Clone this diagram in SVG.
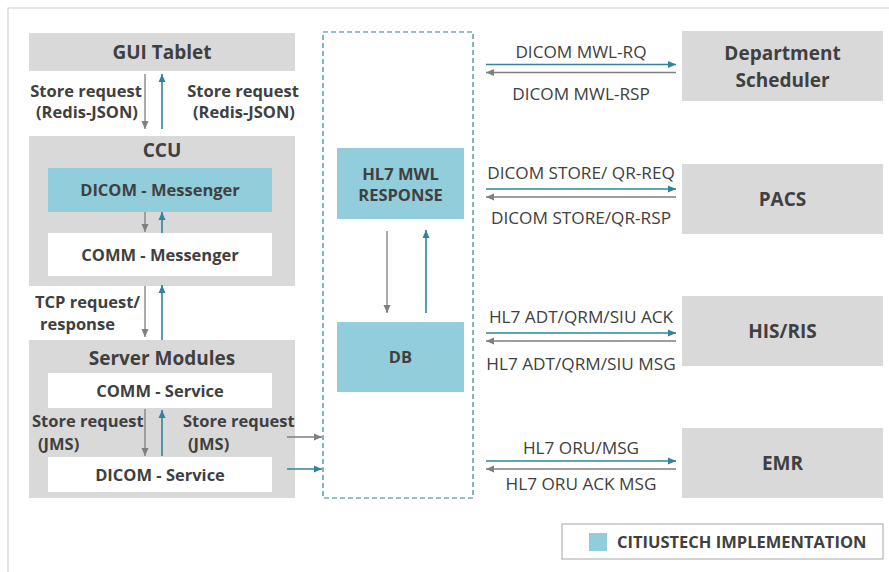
<svg xmlns="http://www.w3.org/2000/svg" width="889" height="572" viewBox="0 0 889 572">
<defs>
<marker id="ag" viewBox="0 0 8 8" refX="8" refY="4" markerWidth="8" markerHeight="8" markerUnits="userSpaceOnUse" orient="auto"><path d="M0,0.5 L8,4 L0,7.5 z" fill="#7F7F7F"/></marker>
<marker id="at" viewBox="0 0 8 8" refX="8" refY="4" markerWidth="8" markerHeight="8" markerUnits="userSpaceOnUse" orient="auto"><path d="M0,0.5 L8,4 L0,7.5 z" fill="#31849B"/></marker>
</defs>
<style>
text{font-family:"Open Sans","Liberation Sans",sans-serif;fill:#404040}
.t{font-size:19px;font-weight:bold;text-anchor:middle}
.b{font-size:16.5px;font-weight:bold;text-anchor:middle}
.l{font-size:16.5px;font-weight:bold}
.r{font-size:17.2px;text-anchor:middle}
.gbox{fill:#D9D9D9}
.tbox{fill:#92CDDC}
.wbox{fill:#FFFFFF}
.g{stroke:#7F7F7F;stroke-width:1.3;fill:none;marker-end:url(#ag)}
.c{stroke:#31849B;stroke-width:1.6;fill:none;marker-end:url(#at)}
</style>
<rect width="889" height="572" fill="#FFFFFF"/>
<path d="M8,572 V8 H889" fill="none" stroke="#D0D0D0" stroke-width="1.2"/>

<g id="gui-tablet"><rect class="gbox" x="29" y="33" width="266" height="38"/><text class="t" x="162" y="59">GUI Tablet</text></g>
<g id="ccu"><rect class="gbox" x="29" y="136" width="266" height="150"/><text class="t" x="162" y="157">CCU</text></g>
<g id="dicom-messenger"><rect class="tbox" x="48" y="168" width="224" height="44"/><text class="b" x="160" y="196">DICOM - Messenger</text></g>
<g id="comm-messenger"><rect class="wbox" x="48" y="233" width="224" height="43"/><text class="b" x="160" y="261">COMM - Messenger</text></g>
<g id="server-modules"><rect class="gbox" x="29" y="340" width="266" height="158"/><text class="t" x="162" y="365">Server Modules</text></g>
<g id="comm-service"><rect class="wbox" x="48" y="373" width="224" height="35"/><text class="b" x="160" y="397">COMM - Service</text></g>
<g id="dicom-service"><rect class="wbox" x="48" y="457" width="224" height="35"/><text class="b" x="160" y="481">DICOM - Service</text></g>

<g id="citiustech-box"><rect x="323" y="32" width="150" height="466" fill="none" stroke="#31849B" stroke-width="1.2" stroke-dasharray="5,3"/></g>
<g id="hl7-mwl-response"><rect class="tbox" x="337" y="148" width="127" height="71"/><text class="b" x="400.5" y="180">HL7 MWL</text><text class="b" x="400.5" y="201">RESPONSE</text></g>
<g id="db"><rect class="tbox" x="337" y="322" width="127" height="70"/><text class="b" x="400.5" y="363">DB</text></g>

<g id="department-scheduler"><rect class="gbox" x="682" y="31" width="201" height="70"/><text class="t" x="782.5" y="60">Department</text><text class="t" x="782.5" y="87">Scheduler</text></g>
<g id="pacs"><rect class="gbox" x="682" y="164" width="201" height="70"/><text class="t" x="782.5" y="206">PACS</text></g>
<g id="his-ris"><rect class="gbox" x="682" y="296" width="201" height="70"/><text class="t" x="782.5" y="338">HIS/RIS</text></g>
<g id="emr"><rect class="gbox" x="682" y="428" width="201" height="70"/><text class="t" x="782.5" y="470">EMR</text></g>

<g id="legend"><rect x="562" y="524" width="321" height="35" fill="#FFFFFF" stroke="#A6A6A6" stroke-width="1"/><rect class="tbox" x="589" y="533" width="18" height="18"/><text class="l" x="617" y="548">CITIUSTECH IMPLEMENTATION</text></g>

<g id="connectors">
<line class="g" x1="145" y1="74" x2="145" y2="129"/>
<line class="c" x1="162" y1="129" x2="162" y2="74"/>
<line class="g" x1="145" y1="212" x2="145" y2="232"/>
<line class="c" x1="162" y1="233" x2="162" y2="212"/>
<line class="g" x1="145" y1="286" x2="145" y2="337"/>
<line class="c" x1="162" y1="340" x2="162" y2="285"/>
<line class="g" x1="145" y1="409" x2="145" y2="456"/>
<line class="c" x1="162" y1="456" x2="162" y2="410"/>
<line class="g" x1="287" y1="437" x2="322" y2="437"/>
<line class="c" x1="287" y1="469" x2="322" y2="469"/>
<line class="g" x1="387" y1="231" x2="387" y2="313"/>
<line class="c" x1="426" y1="313" x2="426" y2="230"/>
<line class="c" x1="486" y1="64.5" x2="676" y2="64.5"/>
<line class="g" x1="676" y1="72.5" x2="486" y2="72.5"/>
<line class="c" x1="486" y1="189" x2="676" y2="189"/>
<line class="g" x1="676" y1="197" x2="486" y2="197"/>
<line class="c" x1="486" y1="333" x2="676" y2="333"/>
<line class="g" x1="676" y1="341" x2="486" y2="341"/>
<line class="c" x1="486" y1="461" x2="676" y2="461"/>
<line class="g" x1="676" y1="469" x2="486" y2="469"/>
</g>

<g id="labels">
<text class="l" x="86" y="97" text-anchor="middle">Store request</text>
<text class="l" x="87" y="118" text-anchor="middle">(Redis-JSON)</text>
<text class="l" x="243" y="97" text-anchor="middle">Store request</text>
<text class="l" x="244" y="118" text-anchor="middle">(Redis-JSON)</text>
<text class="l" x="35" y="308">TCP request/</text>
<text class="l" x="40" y="330">response</text>
<text class="l" x="32" y="427">Store request</text>
<text class="l" x="38" y="450">(JMS)</text>
<text class="l" x="183" y="427">Store request</text>
<text class="l" x="188" y="450">(JMS)</text>
<text class="r" x="581" y="58">DICOM MWL-RQ</text>
<text class="r" x="581" y="100">DICOM MWL-RSP</text>
<text class="r" x="581" y="179">DICOM STORE/ QR-REQ</text>
<text class="r" x="581" y="224">DICOM STORE/QR-RSP</text>
<text class="r" x="581" y="323">HL7 ADT/QRM/SIU ACK</text>
<text class="r" x="581" y="370">HL7 ADT/QRM/SIU MSG</text>
<text class="r" x="581" y="454">HL7 ORU/MSG</text>
<text class="r" x="581" y="490">HL7 ORU ACK MSG</text>
</g>
</svg>
